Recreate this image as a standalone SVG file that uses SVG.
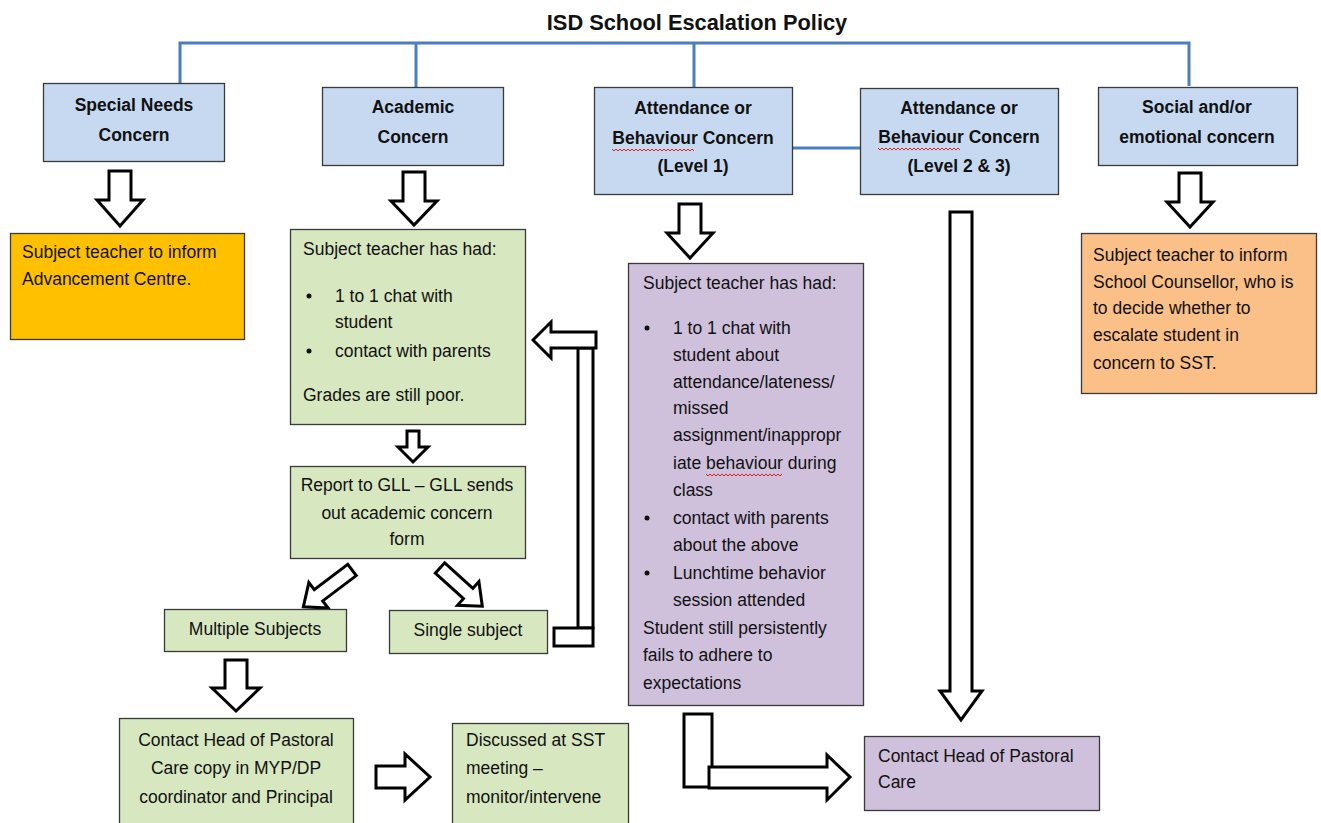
<svg xmlns="http://www.w3.org/2000/svg" width="1321" height="823" viewBox="0 0 1321 823">
<style>
.box{stroke:#3a3a3a;stroke-width:1.3}
.blue{fill:#C6D9F1}
.green{fill:#D7E7BF}
.purple{fill:#CFC0DC}
.gold{fill:#FFC000}
.peach{fill:#FBBF88}
.hd{font-family:"Liberation Sans",Arial,sans-serif;font-weight:bold;font-size:17.5px;fill:#111;text-anchor:middle}
.tx{font-family:"Liberation Sans",Arial,sans-serif;font-size:17.5px;fill:#111}
.c{text-anchor:middle}
.arr{fill:#fff;stroke:#000;stroke-width:3;stroke-linejoin:miter}
.ln{fill:none;stroke:#4A7EC1;stroke-width:3}
.sq{fill:none;stroke:#E02020;stroke-width:1}
</style>
<rect width="1321" height="823" fill="#fff"/>
<text x="697" y="30" style="font-family:'Liberation Sans',Arial,sans-serif;font-weight:bold;font-size:21.8px;fill:#111" text-anchor="middle">ISD School Escalation Policy</text>

<g id="connectors">
<path class="ln" d="M180,83 V43 H1189 V86"/>
<path class="ln" d="M416,43 V87"/>
<path class="ln" d="M694,43 V87"/>
<path class="ln" d="M792,148 H860"/>
<path class="arr" d="M109,171 H131 V200 H143 L120,226 L97,200 H109 Z"/>
<path class="arr" d="M403,172 H425 V201 H437 L414,225 L391,201 H403 Z"/>
<path class="arr" d="M679,204 H701 V233 H713 L690,258 L667,233 H679 Z"/>
<path class="arr" d="M1179,173 H1201 V202 H1213 L1190,227 L1167,202 H1179 Z"/>
<path class="arr" d="M950,212 H972 V691 H982 L961,720 L940,691 H950 Z"/>
<path class="arr" d="M407,431 H419 V447 H428 L413,462 L398,447 H407 Z"/>
<path class="arr" d="M225,660 H247 V688 H260 L236,711 L212,688 H225 Z"/>
<path class="arr" d="M376,766 H405 V754 L430,777 L405,800 V788 H376 Z"/>
<path class="arr" transform="translate(352,570) rotate(142.9)" d="M0,-7 H42 V-16 L61,0 L42,16 V7 H0 Z"/>
<path class="arr" transform="translate(440,568) rotate(42.1)" d="M0,-7 H38 V-16 L57,0 L38,16 V7 H0 Z"/>
<rect class="arr" x="578" y="348" width="15" height="280"/>
<rect class="arr" x="554" y="628" width="39" height="18"/>
<path class="arr" d="M533,340 L551,322 V332 H596 V348 H551 V358 Z"/>
<rect class="arr" x="684" y="714" width="28" height="73"/>
<path class="arr" d="M709,767 H827 V755 L850,777 L827,800 V788 H709 Z"/>
</g>

<g id="special-needs">
<rect class="box blue" x="43.5" y="83.5" width="181" height="78"/>
<text class="hd" x="134" y="111">Special Needs</text>
<text class="hd" x="134" y="141">Concern</text>
</g>
<g id="academic">
<rect class="box blue" x="322.5" y="87.5" width="181" height="78"/>
<text class="hd" x="413" y="113">Academic</text>
<text class="hd" x="413" y="143">Concern</text>
</g>
<g id="attendance-l1">
<rect class="box blue" x="594.5" y="87.5" width="198" height="107"/>
<text class="hd" x="693" y="114">Attendance or</text>
<text class="hd" x="693" y="144">Behaviour Concern</text>
<text class="hd" x="693" y="172">(Level 1)</text>
<path class="sq" d="M612,149 l2,2 l2,-2 l2,2 l2,-2 l2,2 l2,-2 l2,2 l2,-2 l2,2 l2,-2 l2,2 l2,-2 l2,2 l2,-2 l2,2 l2,-2 l2,2 l2,-2 l2,2 l2,-2 l2,2 l2,-2 l2,2 l2,-2 l2,2 l2,-2 l2,2 l2,-2 l2,2 l2,-2 l2,2 l2,-2 l2,2 l2,-2 l2,2 l2,-2 l2,2 l2,-2 l2,2 l2,-2 l2,2"/>
</g>
<g id="attendance-l2">
<rect class="box blue" x="860.5" y="88.5" width="198" height="106"/>
<text class="hd" x="959" y="114">Attendance or</text>
<text class="hd" x="959" y="143">Behaviour Concern</text>
<text class="hd" x="959" y="172">(Level 2 &amp; 3)</text>
<path class="sq" d="M878,148 l2,2 l2,-2 l2,2 l2,-2 l2,2 l2,-2 l2,2 l2,-2 l2,2 l2,-2 l2,2 l2,-2 l2,2 l2,-2 l2,2 l2,-2 l2,2 l2,-2 l2,2 l2,-2 l2,2 l2,-2 l2,2 l2,-2 l2,2 l2,-2 l2,2 l2,-2 l2,2 l2,-2 l2,2 l2,-2 l2,2 l2,-2 l2,2 l2,-2 l2,2 l2,-2 l2,2 l2,-2 l2,2"/>
</g>
<g id="social">
<rect class="box blue" x="1098.5" y="87.5" width="199" height="78"/>
<text class="hd" x="1197" y="113">Social and/or</text>
<text class="hd" x="1197" y="143">emotional concern</text>
</g>

<g id="advancement">
<rect class="box gold" x="10.5" y="233.5" width="234" height="106"/>
<text class="tx" x="22" y="258">Subject teacher to inform</text>
<text class="tx" x="22" y="285">Advancement Centre.</text>
</g>

<g id="academic-steps">
<rect class="box green" x="290.5" y="229.5" width="235" height="195"/>
<text class="tx" x="303" y="255">Subject teacher has had:</text>
<circle cx="309" cy="296" r="2.5" fill="#111"/>
<text class="tx" x="335" y="302">1 to 1 chat with</text>
<text class="tx" x="335" y="328">student</text>
<circle cx="309" cy="351" r="2.5" fill="#111"/>
<text class="tx" x="335" y="357">contact with parents</text>
<text class="tx" x="303" y="401">Grades are still poor.</text>
</g>
<g id="report-gll">
<rect class="box green" x="290.5" y="466.5" width="235" height="92"/>
<text class="tx c" x="407" y="491">Report to GLL – GLL sends</text>
<text class="tx c" x="407" y="519">out academic concern</text>
<text class="tx c" x="407" y="545">form</text>
</g>
<g id="multiple">
<rect class="box green" x="164.5" y="609.5" width="182" height="42"/>
<text class="tx c" x="255" y="635">Multiple Subjects</text>
</g>
<g id="single">
<rect class="box green" x="389.5" y="610.5" width="158" height="43"/>
<text class="tx c" x="468" y="636">Single subject</text>
</g>
<g id="contact-hpc-academic">
<rect class="box green" x="119.5" y="718.5" width="234" height="110"/>
<text class="tx c" x="236" y="746">Contact Head of Pastoral</text>
<text class="tx c" x="236" y="774">Care copy in MYP/DP</text>
<text class="tx c" x="236" y="803">coordinator and Principal</text>
</g>
<g id="sst">
<rect class="box green" x="452.5" y="723.5" width="176" height="105"/>
<text class="tx" x="466" y="746">Discussed at SST</text>
<text class="tx" x="466" y="774">meeting –</text>
<text class="tx" x="466" y="803">monitor/intervene</text>
</g>

<g id="attendance-steps">
<rect class="box purple" x="628.5" y="263.5" width="235" height="442"/>
<text class="tx" x="643" y="289">Subject teacher has had:</text>
<circle cx="647" cy="328" r="2.5" fill="#111"/>
<text class="tx" x="673" y="334">1 to 1 chat with</text>
<text class="tx" x="673" y="361">student about</text>
<text class="tx" x="673" y="388">attendance/lateness/</text>
<text class="tx" x="673" y="414">missed</text>
<text class="tx" x="673" y="441">assignment/inappropr</text>
<text class="tx" x="673" y="469">iate behaviour during</text>
<path class="sq" d="M706,474 l2,2 l2,-2 l2,2 l2,-2 l2,2 l2,-2 l2,2 l2,-2 l2,2 l2,-2 l2,2 l2,-2 l2,2 l2,-2 l2,2 l2,-2 l2,2 l2,-2 l2,2 l2,-2 l2,2 l2,-2 l2,2 l2,-2 l2,2 l2,-2 l2,2 l2,-2 l2,2 l2,-2 l2,2 l2,-2 l2,2 l2,-2 l2,2 l2,-2 l2,2 l2,-2"/>
<text class="tx" x="673" y="496">class</text>
<circle cx="647" cy="518" r="2.5" fill="#111"/>
<text class="tx" x="673" y="524">contact with parents</text>
<text class="tx" x="673" y="551">about the above</text>
<circle cx="647" cy="573" r="2.5" fill="#111"/>
<text class="tx" x="673" y="579">Lunchtime behavior</text>
<text class="tx" x="673" y="606">session attended</text>
<text class="tx" x="643" y="634">Student still persistently</text>
<text class="tx" x="643" y="661">fails to adhere to</text>
<text class="tx" x="643" y="689">expectations</text>
</g>
<g id="contact-hpc">
<rect class="box purple" x="864.5" y="736.5" width="235" height="74"/>
<text class="tx" x="878" y="762">Contact Head of Pastoral</text>
<text class="tx" x="878" y="788">Care</text>
</g>

<g id="counsellor">
<rect class="box peach" x="1081.5" y="233.5" width="235" height="160"/>
<text class="tx" x="1093" y="261">Subject teacher to inform</text>
<text class="tx" x="1093" y="288">School Counsellor, who is</text>
<text class="tx" x="1093" y="314">to decide whether to</text>
<text class="tx" x="1093" y="341">escalate student in</text>
<text class="tx" x="1093" y="369">concern to SST.</text>
</g>
</svg>
